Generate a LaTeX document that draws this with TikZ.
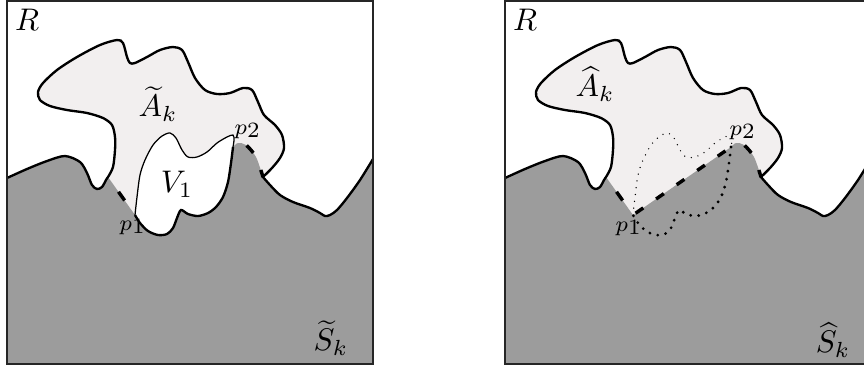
\documentclass[tikz,border=0pt]{standalone}
\usepackage{amsmath,amssymb}
\usepackage{tikz}
\usepackage{xcolor}

\definecolor{groundgray}{RGB}{156,156,156}
\definecolor{regionfill}{RGB}{242,239,239}

% outlines shared by both panels (pixel units), each one continues the current path
\newcommand{\gndleft}{-- plot[smooth] coordinates {(7,178) (27,169) (47,161) (65,156) (80,162) (87,173) (92,185) (97,189) (102,187) (106,180) (108,177)}}
\newcommand{\outerA}{-- plot[smooth] coordinates {(108,177) (113,167) (115,150) (115,137) (112,125) (103,118) (87,113) (67,110) (50,106) (40,100) (38,92) (43,83) (57,70) (77,57) (100,45) (117,40) (123,43) (127,57) (130,63) (135,63) (147,57) (160,50) (173,47) (182,50) (188,62) (195,78) (205,90) (217,94) (230,93) (243,88) (252,90) (258,102) (264,115) (275,125) (282,135) (284,148) (280,158) (272,168) (263,177)}}
\newcommand{\gndright}{-- plot[smooth] coordinates {(263,177) (270,185) (280,195) (293,202) (310,208) (320,213) (325,216) (330,215) (337,210) (347,198) (360,180) (373,159)}}
\newcommand{\ridgeline}{-- plot[smooth] coordinates {(233,147) (238,143) (246,145) (256,157) (263,177)}}
\newcommand{\cavetop}{-- plot[smooth] coordinates {(135,215) (137,197) (140,175) (145,160) (153,145) (162,136) (170,133) (176,138) (182,150) (188,157) (197,157) (207,152) (217,143) (227,137) (233,135) (234,140) (233,147)}}
\newcommand{\cavelow}{-- plot[smooth] coordinates {(233,147) (231,163) (228,182) (223,197) (216,207) (208,213) (198,216) (188,214) (181,210) (177,218) (173,228) (167,234) (158,235) (148,231) (140,223) (135,215)}}

\begin{document}
\begin{tikzpicture}[
    x=0.32pt, y=-0.32pt,
    font=\normalsize,
    panel/.style={draw=black!85, line width=0.8pt},
    outline/.style={line width=0.75pt},
    seam/.style={line width=1.1pt},
    finedots/.style={line width=0.45pt, line cap=round, dash pattern=on 0pt off 2.2pt},
    bigdots/.style={line width=1pt, line cap=round, dash pattern=on 0pt off 2.6pt},
    lbl/.style={inner sep=0pt},
    ptlbl/.style={inner sep=0pt, font=\scriptsize}
]
\useasboundingbox (0,0) rectangle (864,372);
\clip (0,0) rectangle (864,372);

% left panel
\fill[regionfill] (108,177) \outerA -- (233,147) -- (135,215) -- cycle;
\fill[groundgray] (7,178) \gndleft -- (135,215) -- (233,147) \ridgeline \gndright -- (373,364) -- (7,364) -- cycle;
\fill[white] (135,215) \cavetop \cavelow -- cycle;
\draw[outline] (7,178) \gndleft \outerA \gndright;
\draw[line width=0.4pt] (135,215) \cavetop;
\draw[outline] (233,147) \cavelow;
\draw[seam, dash pattern=on 3.4pt off 8pt, dash phase=5.6pt] (108,177) -- (135,215);
\draw[seam, dash pattern=on 3.2pt off 6pt, dash phase=4.2pt] (233,147) \ridgeline;
\draw[panel] (7,0.5) rectangle (373,364);
\node[lbl] (rL) at (27,20) {$R$};
\node[lbl] (aL) at (158,104) {$\widetilde{A}_k$};
\node[lbl] (vL) at (177,184) {$V_1$};
\node[ptlbl] (p1L) at (132,227) {$p$\raisebox{-0.7pt}{$1$}};
\node[ptlbl] (p2L) at (247,131) {$p$\raisebox{-0.7pt}{$2$}};
\node[lbl] (sL) at (331,338) {$\widetilde{S}_k$};

% right panel
\begin{scope}[shift={(498,0)}]
\fill[regionfill] (108,177) \outerA -- (233,147) -- (135,215) -- cycle;
\fill[groundgray] (7,178) \gndleft -- (135,215) -- (233,147) \ridgeline \gndright -- (373,364) -- (7,364) -- cycle;
\draw[outline] (7,178) \gndleft \outerA \gndright;
\draw[finedots] (135,215) \cavetop;
\draw[bigdots] (233,147) \cavelow;
\draw[seam, dash pattern=on 3.4pt off 8pt, dash phase=5.6pt] (108,177) -- (135,215);
\draw[seam, dash pattern=on 3pt off 5pt, dash phase=7pt] (135,215) -- (233,147);
\draw[seam, dash pattern=on 3.2pt off 6pt, dash phase=4.2pt] (233,147) \ridgeline;
\draw[panel] (7,0.5) rectangle (373,364);
\node[lbl] (rR) at (27,20) {$R$};
\node[lbl] (aR) at (97,84) {$\widehat{A}_k$};
\node[ptlbl] (p1R) at (130,228) {$p$\raisebox{-0.7pt}{$1$}};
\node[ptlbl] (p2R) at (244,132) {$p$\raisebox{-0.7pt}{$2$}};
\node[lbl] (sR) at (335,340) {$\widehat{S}_k$};
\end{scope}
\end{tikzpicture}
\end{document}
